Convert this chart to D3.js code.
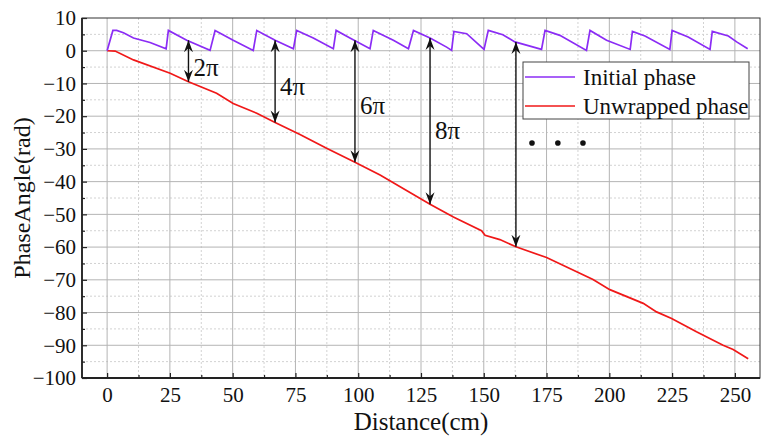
<!DOCTYPE html>
<html>
<head>
<meta charset="utf-8">
<script src="https://cdn.jsdelivr.net/npm/d3@7"></script>
<style>
  body { margin: 0; background: #fff; }
  svg text { font-family: "Liberation Serif", "Times New Roman", serif; fill: #111; }
</style>
</head>
<body>
<div id="chart"></div>
<script>
// Data
const initialX = [0, 2.3, 3.8, 6.5, 10.5, 17.1, 23.5,
  24.4, 31.7, 41, 43, 50.2, 58.2, 59.6, 66.9, 74.2, 75.5, 82.1, 90.1,
  91.2, 96.7, 104.7, 106, 114, 120, 122, 128.6, 135.2, 137.2,
  138.1, 143.2, 149.1, 150.1, 151.8, 157.6, 162.4, 173,
  174.4, 180.3, 190.9, 192.3, 198.9, 208.3, 209.2, 214.2, 224.1,
  225, 231.4, 240.1, 241, 247.4, 250.7, 255.1];
const initialY = [0, 6.2, 6.2, 5.5, 3.9, 2.5, 0.6,
  6.2, 3.2, 0.1, 6.2, 3.2, 0.1, 6.2, 3.2, 0.6, 6.2, 3.9, 0.6,
  6.2, 3.9, 0.6, 6.2, 3.2, 0.6, 6.2, 3.9, 1.1, 0.1,
  5.9, 5.2, 1.1, 0.4, 6.2, 4.9, 2.7, 0.4,
  6.2, 4.7, 0.1, 6.2, 3.2, 0.4, 5.9, 4.5, 0.4,
  6.2, 4.2, 0.4, 5.9, 4.5, 2.7, 0.6];

const unwrappedX = [0, 3.2, 10.5, 25.1, 32.4, 43.6, 50.2, 59.6, 66.9, 76.8, 87.4,
  98.7, 108.7, 128.6, 137.9, 149.1, 150.5, 156.4, 162.8, 175, 193.5, 200.2,
  213.5, 218.8, 224.8, 234.7, 245.3, 249.3, 255.3];
const unwrappedY = [0, -0.1, -2.8, -6.9, -9.5, -13, -16.1, -19.1, -21.9, -25.6, -29.8,
  -34.1, -38, -46.9, -50.8, -55, -56.4, -57.7, -59.9, -63.2, -69.9, -73,
  -77.2, -79.8, -81.8, -85.9, -90, -91.3, -94.1];

// annotation arrows (distance, top and bottom phase) and labels
const arrowX = [32.4, 66.9, 98.7, 128.6, 162.8];
const arrowTop = [3.2, 3.2, 3.2, 3.9, 2.7];
const arrowBottom = [-9.5, -21.9, -34.1, -46.9, -59.9];
const arrowLabels = ["2π", "4π", "6π", "8π", ""];
const labelY = [-5.0, -10.8, -16.6, -24.3, 0];
const dotsX = [169.2, 179.5, 189.5];
const dotsY = [-28.2, -28.2, -28.2];

const xTicks = [0, 25, 50, 75, 100, 125, 150, 175, 200, 225, 250];
const yTicks = [10, 0, -10, -20, -30, -40, -50, -60, -70, -80, -90, -100];
const seriesNames = ["Initial phase", "Unwrapped phase"];
const seriesColors = ["#8b2cf5", "#f01818"];

const W = 770, H = 446;
const margin = { top: 18, right: 10, bottom: 68, left: 82 };
const serif = '"Liberation Serif", "Times New Roman", serif';

const svg = d3.select("#chart").append("svg")
  .attr("width", W).attr("height", H);

const x = d3.scaleLinear().domain([-10, 260]).range([margin.left, W - margin.right]);
const y = d3.scaleLinear().domain([-100, 10]).range([H - margin.bottom, margin.top]);

const x0 = margin.left, x1 = W - margin.right, y0 = H - margin.bottom, y1 = margin.top;

// minor grid (dashed)
const xMinor = xTicks.map(d => d + 12.5).filter(d => d < 260);
const yMinor = yTicks.map(d => d - 5).filter(d => d > -100);
svg.append("g").selectAll("line").data(xMinor).join("line")
  .attr("x1", d => x(d)).attr("x2", d => x(d)).attr("y1", y1).attr("y2", y0)
  .attr("stroke", "#d2d2d2").attr("stroke-dasharray", "2,2");
svg.append("g").selectAll("line").data(yMinor).join("line")
  .attr("y1", d => y(d)).attr("y2", d => y(d)).attr("x1", x0).attr("x2", x1)
  .attr("stroke", "#d2d2d2").attr("stroke-dasharray", "2,2");

// major grid
svg.append("g").selectAll("line").data(xTicks).join("line")
  .attr("x1", d => x(d)).attr("x2", d => x(d)).attr("y1", y1).attr("y2", y0)
  .attr("stroke", "#b4b4b4");
svg.append("g").selectAll("line").data(yTicks.filter(d => d < 10 && d > -100)).join("line")
  .attr("y1", d => y(d)).attr("y2", d => y(d)).attr("x1", x0).attr("x2", x1)
  .attr("stroke", "#b4b4b4");

// axes
const xAxis = svg.append("g").attr("transform", `translate(0,${y0})`)
  .call(d3.axisBottom(x).tickValues(xTicks).tickSizeInner(-5).tickSizeOuter(0).tickPadding(9));
const xAxisMinor = svg.append("g").attr("transform", `translate(0,${y0})`)
  .call(d3.axisBottom(x).tickValues(xMinor).tickSizeInner(-3).tickSizeOuter(0).tickFormat(""));
const yAxis = svg.append("g").attr("transform", `translate(${x0},0)`)
  .call(d3.axisLeft(y).tickValues(yTicks).tickSizeInner(-5).tickSizeOuter(0).tickPadding(6)
    .tickFormat(d => d < 0 ? "\u2212" + Math.abs(d) : d));
const yAxisMinor = svg.append("g").attr("transform", `translate(${x0},0)`)
  .call(d3.axisLeft(y).tickValues(yMinor).tickSizeInner(-3).tickSizeOuter(0).tickFormat(""));

[xAxis, yAxis, xAxisMinor, yAxisMinor].forEach(g => {
  g.attr("font-family", serif).attr("font-size", 21);
  g.select(".domain").remove();
  g.selectAll("line").attr("stroke", "#222").attr("stroke-width", 1.2);
  g.selectAll("text").attr("fill", "#111")
    .style("font-size", "21px").style("font-family", serif);
});

// frame
svg.append("rect").attr("x", x0).attr("y", y1).attr("width", x1 - x0).attr("height", y0 - y1)
  .attr("fill", "none").attr("stroke", "#333").attr("stroke-width", 1);
svg.append("line").attr("x1", x0).attr("x2", x1).attr("y1", y0).attr("y2", y0)
  .attr("stroke", "#222").attr("stroke-width", 1.8);
svg.append("line").attr("x1", x0).attr("x2", x0).attr("y1", y1).attr("y2", y0)
  .attr("stroke", "#222").attr("stroke-width", 1.8);

// lines
const line = d3.line().x(d => x(d[0])).y(d => y(d[1]));
svg.append("path").datum(d3.zip(unwrappedX, unwrappedY))
  .attr("d", line).attr("fill", "none").attr("stroke", seriesColors[1]).attr("stroke-width", 1.7);
svg.append("path").datum(d3.zip(initialX, initialY))
  .attr("d", line).attr("fill", "none").attr("stroke", seriesColors[0]).attr("stroke-width", 1.7);

// arrows
svg.append("defs").append("marker")
  .attr("id", "head").attr("viewBox", "-12 -5 13 10")
  .attr("refX", 0).attr("refY", 0)
  .attr("markerWidth", 13).attr("markerHeight", 10)
  .attr("markerUnits", "userSpaceOnUse")
  .attr("orient", "auto-start-reverse")
  .append("path").attr("d", "M0,0 L-12,-4.5 L-8,0 L-12,4.5 Z").attr("fill", "#111");

const ann = svg.append("g");
arrowX.forEach((ax, i) => {
  ann.append("line")
    .attr("x1", x(ax)).attr("x2", x(ax))
    .attr("y1", y(arrowTop[i])).attr("y2", y(arrowBottom[i]))
    .attr("stroke", "#111").attr("stroke-width", 1.4)
    .attr("marker-start", "url(#head)").attr("marker-end", "url(#head)");
  if (arrowLabels[i]) {
    ann.append("text").attr("x", x(ax) + 5).attr("y", y(labelY[i]))
      .attr("dy", "0.35em").style("font-size", "25px").text(arrowLabels[i]);
  }
});
ann.selectAll("circle").data(d3.zip(dotsX, dotsY)).join("circle")
  .attr("cx", d => x(d[0])).attr("cy", d => y(d[1])).attr("r", 2.8).attr("fill", "#111");

// legend
const lg = svg.append("g").attr("transform", "translate(523,62)");
lg.append("rect").attr("width", 226).attr("height", 57)
  .attr("fill", "#fff").attr("stroke", "#444").attr("stroke-width", 1);
seriesNames.forEach((name, i) => {
  const ly = 15 + i * 29;
  lg.append("line").attr("x1", 2).attr("x2", 52).attr("y1", ly).attr("y2", ly)
    .attr("stroke", seriesColors[i]).attr("stroke-width", 1.7);
  lg.append("text").attr("x", 60).attr("y", ly).attr("dy", "0.35em")
    .style("font-size", "23px").text(name);
});

// axis titles
svg.append("text").attr("x", (x0 + x1) / 2).attr("y", 430)
  .attr("text-anchor", "middle").style("font-size", "25px").text("Distance(cm)");
svg.append("text").attr("transform", `translate(30,${(y0 + y1) / 2}) rotate(-90)`)
  .attr("text-anchor", "middle").style("font-size", "24px").text("PhaseAngle(rad)");
</script>
</body>
</html>
